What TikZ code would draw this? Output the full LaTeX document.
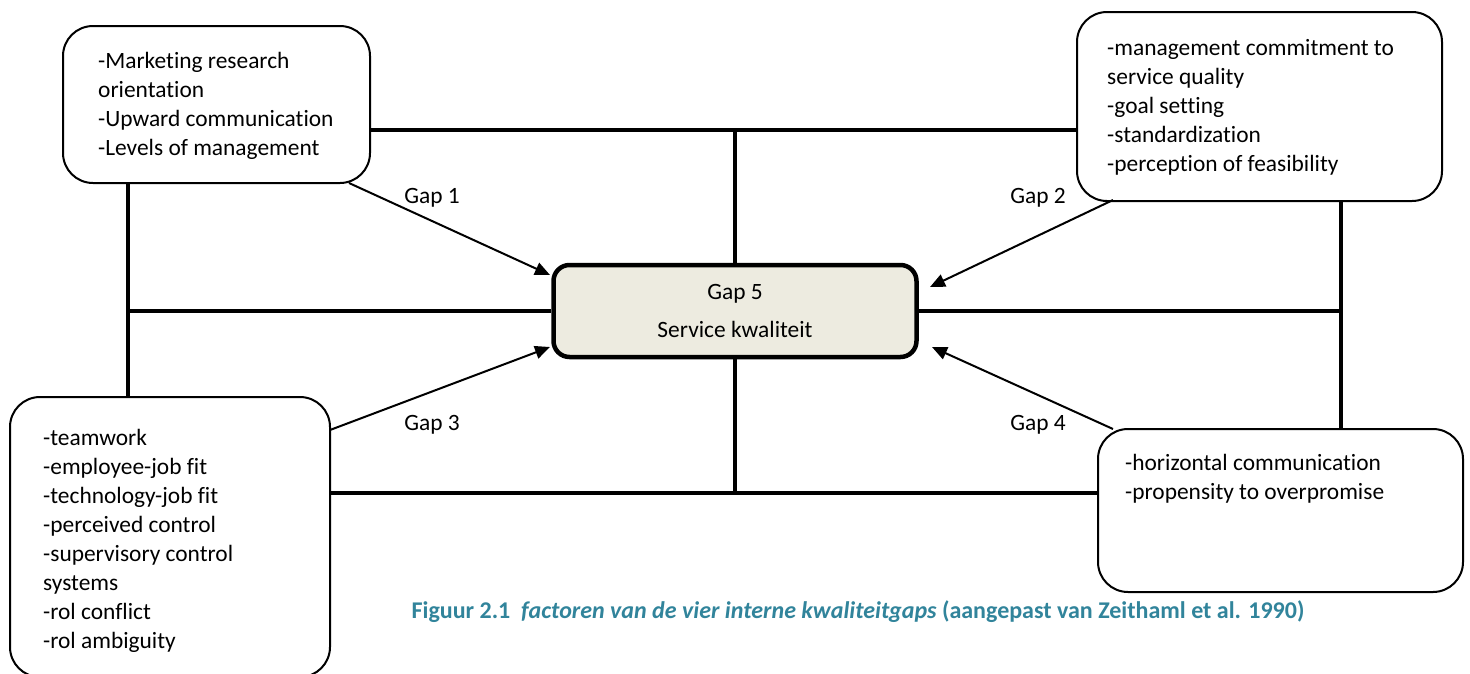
\documentclass[tikz,border=0pt]{standalone}
\usepackage{fontspec}
\setmainfont{Carlito}[Ligatures=NoCommon]
\usetikzlibrary{arrows.meta}
\definecolor{captionteal}{RGB}{49,132,155}
\definecolor{centerfill}{RGB}{237,235,224}
\tikzset{
  factorbox/.style={draw=black, line width=2pt, rounded corners=30pt, fill=white, inner sep=0pt},
  centerbox/.style={draw=black, line width=4.5pt, rounded corners=16pt, fill=centerfill, inner sep=0pt,
    minimum width=363pt, minimum height=92pt, align=center, font=\fontsize{23.4}{38}\selectfont},
  boxtext/.style={anchor=north west, inner sep=0pt, align=left, font=\fontsize{23.4}{29}\selectfont},
  gaplabel/.style={inner sep=0pt, font=\fontsize{23.4}{29}\selectfont},
  link/.style={line width=4pt},
  gaparrow/.style={line width=2pt, -{Triangle[length=15pt,width=13pt]}},
}
\begin{document}
\begin{tikzpicture}[x=1pt,y=-1pt]
\useasboundingbox (0,0) rectangle (1470,673);
% boxes
\node[factorbox, minimum width=307pt, minimum height=157pt] (A) at (216.5,104.5) {};
\node[factorbox, minimum width=365pt, minimum height=189pt] (B) at (1259.5,106.5) {};
\node[factorbox, minimum width=320pt, minimum height=280pt] (C) at (170,537) {};
\node[factorbox, minimum width=365pt, minimum height=163pt] (D) at (1280.5,510.5) {};
\node[centerbox] (E) at (735,311) {Gap 5\\Service kwaliteit};
% junctions
\coordinate (jt) at (735,130);
\coordinate (jl) at (128,311);
\coordinate (jr) at (1341,311);
\coordinate (jb) at (735,493);
% thick links
\draw[link] (A.east |- jt) -- (B.west |- jt);
\draw[link] (jt) -- (E.north);
\draw[link] (A.south -| jl) -- (C.north -| jl);
\draw[link] (jl) -- (E.west);
\draw[link] (B.south -| jr) -- (D.north -| jr);
\draw[link] (E.east) -- (jr);
\draw[link] (C.east |- jb) -- (D.west |- jb);
\draw[link] (E.south) -- (jb);
% box texts
\node[boxtext] (tA) at (98,52) {-Marketing research\\orientation\\-Upward communication\\-Levels of management};
\node[boxtext] (tB) at (1107,39) {-management commitment to\\service quality\\-goal setting\\-standardization\\-perception of feasibility};
\node[boxtext] (tC) at (43,429) {-teamwork\\-employee-job fit\\-technology-job fit\\-perceived control\\-supervisory control\\systems\\-rol conflict\\-rol ambiguity};
\node[boxtext] (tD) at (1125,454) {-horizontal communication\\-propensity to overpromise};
% gap arrows
\coordinate (g1s) at (349,183);
\coordinate (g1e) at (550,275);
\coordinate (g2s) at (1113,200);
\coordinate (g2e) at (930,287);
\coordinate (g3s) at (330,430);
\coordinate (g3e) at (550,347);
\coordinate (g4s) at (1113,429);
\coordinate (g4e) at (932,347);
\draw[gaparrow] (g1s) -- (g1e);
\draw[gaparrow] (g2s) -- (g2e);
\draw[gaparrow] (g3s) -- (g3e);
\draw[gaparrow] (g4s) -- (g4e);
\node[gaplabel] (l1) at (432,198) {Gap 1};
\node[gaplabel] (l2) at (1038,198) {Gap 2};
\node[gaplabel] (l3) at (432,425) {Gap 3};
\node[gaplabel] (l4) at (1038,425) {Gap 4};
% caption
\node[inner sep=0pt, text=captionteal, font=\fontsize{24}{28}\selectfont\bfseries] (cap) at (858,612)
  {Figuur 2.1\ \ \textit{factoren van de vier interne kwaliteitgaps} (aangepast van Zeithaml et al. 1990)};
\end{tikzpicture}
\end{document}
